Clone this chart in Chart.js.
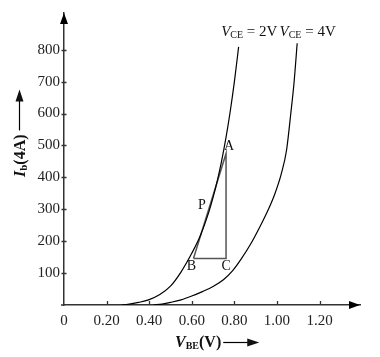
<!DOCTYPE html>
<html>
<head>
<meta charset="utf-8">
<script src="https://cdn.jsdelivr.net/npm/chart.js@4/dist/chart.umd.min.js"></script>
<style>
html,body{margin:0;padding:0;background:#fff;}
#wrap{width:380px;height:357px;position:relative;}
</style>
</head>
<body>
<div id="wrap"><canvas id="c" width="380" height="357"></canvas></div>
<script>
// ---- data ----
const vbe2 = [0.27, 0.30, 0.35, 0.40, 0.45, 0.50, 0.55, 0.60, 0.64, 0.68, 0.70, 0.72, 0.74, 0.76, 0.78, 0.80, 0.82];
const ib2  = [0,    2,    8,    17,   33,   59,   104,  162,  217,  291,  337,  390,  451,  522,  604,  699,  809];
const vbe4 = [0.42, 0.46, 0.50, 0.55, 0.60, 0.65, 0.70, 0.75, 0.79, 0.83, 0.88, 0.92, 0.96, 0.99, 1.02, 1.045, 1.065, 1.08, 1.095];
const ib4  = [0,    3,    8,    16,   28,   42,   58,   80,   106,  142,  195,  245,  300,  348,  410,  485,   600,   695,  820];
const triVbe = [0.608, 0.761, 0.761, 0.608];   // B, C, A, B
const triIb  = [146,   146,   475,   146];
const pointP = [0.648, 312];
const xTicks = [0, 0.20, 0.40, 0.60, 0.80, 1.00, 1.20];
const yTicks = [100, 200, 300, 400, 500, 600, 700, 800];
const curveNames = ['2V', '4V'];

const SERIF = '"Liberation Serif", "DejaVu Serif", serif';
const zip = (xs, ys) => xs.map((x, i) => ({x, y: ys[i]}));

function drawRich(ctx, segs, x, y) {
  let cx = x;
  for (const s of segs) {
    ctx.font = s.font;
    ctx.fillText(s.text, cx, y + (s.dy || 0));
    cx += ctx.measureText(s.text).width + (s.gap || 0);
  }
  return cx;
}

const decor = {
  id: 'decor',
  afterDraw(chart) {
    const ctx = chart.ctx, xs = chart.scales.x, ys = chart.scales.y;
    const ca = chart.chartArea;
    const x0 = xs.getPixelForValue(0), y0 = ys.getPixelForValue(0);
    ctx.save();
    ctx.fillStyle = '#111';
    ctx.strokeStyle = '#333';
    ctx.lineWidth = 1.3;
    // tick marks
    ctx.beginPath();
    xTicks.forEach(v => { if (v === 0) return; const p = Math.round(xs.getPixelForValue(v)) + 0.5; ctx.moveTo(p, y0); ctx.lineTo(p, y0 - 4); });
    yTicks.forEach(v => { const p = Math.round(ys.getPixelForValue(v)) + 0.5; ctx.moveTo(x0 - 2.5, p); ctx.lineTo(x0 + 2.5, p); });
    ctx.moveTo(x0 - 3, y0); ctx.lineTo(x0, y0);
    ctx.stroke();
    // arrowheads
    ctx.fillStyle = '#000';
    ctx.beginPath();
    ctx.moveTo(ca.right, y0); ctx.lineTo(ca.right - 11, y0 - 4); ctx.lineTo(ca.right - 11, y0 + 4); ctx.closePath();
    ctx.fill();
    ctx.beginPath();
    ctx.moveTo(x0, ca.top); ctx.lineTo(x0 - 4, ca.top + 11); ctx.lineTo(x0 + 4, ca.top + 11); ctx.closePath();
    ctx.fill();

    // point labels
    ctx.fillStyle = '#111';
    ctx.font = '14px ' + SERIF;
    ctx.textAlign = 'center';
    ctx.textBaseline = 'middle';
    const px = v => xs.getPixelForValue(v), py = v => ys.getPixelForValue(v);
    ctx.fillText('A', px(triVbe[2]) + 3, py(triIb[2]) - 7);
    ctx.fillText('B', px(triVbe[0]) - 2, py(triIb[0]) + 8);
    ctx.fillText('C', px(triVbe[1]), py(triIb[1]) + 8);
    ctx.fillText('P', px(pointP[0]), py(pointP[1]));

    // curve labels
    ctx.textAlign = 'left';
    ctx.textBaseline = 'alphabetic';
    const lblY = py(842);
    [[0.738, curveNames[0]], [1.012, curveNames[1]]].forEach(([xv, nm]) => {
      drawRich(ctx, [
        {text: 'V', font: 'italic 15px ' + SERIF},
        {text: 'CE', font: '10px ' + SERIF, dy: 2},
        {text: ' = ' + nm, font: '15px ' + SERIF}
      ], px(xv), lblY);
    });

    // x axis title
    let ex = drawRich(ctx, [
      {text: 'V', font: 'bold italic 16px ' + SERIF},
      {text: 'BE', font: 'bold 10px ' + SERIF, dy: 2},
      {text: '(V)', font: 'bold 16px ' + SERIF}
    ], 175, 347);
    ctx.strokeStyle = '#000'; ctx.lineWidth = 1.2;
    ctx.beginPath(); ctx.moveTo(ex + 2, 342.5); ctx.lineTo(ex + 27, 342.5); ctx.stroke();
    ctx.beginPath(); ctx.moveTo(ex + 38, 342.5); ctx.lineTo(ex + 26, 338.5); ctx.lineTo(ex + 26, 346.5); ctx.closePath(); ctx.fill();

    // y axis title (rotated)
    ctx.save();
    ctx.translate(25, 177);
    ctx.rotate(-Math.PI / 2);
    ex = drawRich(ctx, [
      {text: 'I', font: 'bold italic 16px ' + SERIF},
      {text: 'b', font: 'bold 11px ' + SERIF, dy: 2},
      {text: '(4A)', font: 'bold 16px ' + SERIF}
    ], 0, 0);
    ctx.beginPath(); ctx.moveTo(ex + 4, -5.5); ctx.lineTo(ex + 34, -5.5); ctx.stroke();
    ctx.beginPath(); ctx.moveTo(ex + 45, -5.5); ctx.lineTo(ex + 33, -9.5); ctx.lineTo(ex + 33, -1.5); ctx.closePath(); ctx.fill();
    ctx.restore();

    ctx.restore();
  }
};

const lineDs = (data, color, width, mode) => ({
  data, showLine: true, borderColor: color, borderWidth: width, pointRadius: 0,
  fill: false, tension: mode ? 0.4 : 0, cubicInterpolationMode: mode || 'default'
});

new Chart(document.getElementById('c'), {
  type: 'scatter',
  data: {
    datasets: [
      lineDs(zip(vbe2, ib2), '#000', 1.2, 'monotone'),
      lineDs(zip(vbe4, ib4), '#000', 1.2, 'monotone'),
      lineDs(zip(triVbe, triIb), '#555', 1.5, null)
    ]
  },
  options: {
    responsive: false,
    animation: false,
    events: [],
    layout: {padding: {top: 3, right: 20, left: 0, bottom: 0}},
    plugins: {legend: {display: false}, tooltip: {enabled: false}, title: {display: false}},
    scales: {
      x: {
        type: 'linear', min: 0, max: 1.39,
        grid: {display: false, drawTicks: false},
        border: {display: true, color: '#333', width: 1.5},
        afterFit: s => { s.height = 52; },
        afterBuildTicks: s => { s.ticks = xTicks.map(v => ({value: v})); },
        ticks: {
          autoSkip: false, maxRotation: 0, padding: 7, color: '#222',
          font: {family: SERIF, size: 15},
          callback: v => v === 0 ? '0' : Number(v).toFixed(2)
        }
      },
      y: {
        type: 'linear', min: 0, max: 915,
        grid: {display: false, drawTicks: false},
        border: {display: true, color: '#333', width: 1.5},
        afterFit: s => { s.width = 64; },
        afterBuildTicks: s => { s.ticks = yTicks.map(v => ({value: v})); },
        ticks: {
          autoSkip: false, padding: 4, color: '#222',
          font: {family: SERIF, size: 15},
          callback: v => String(v)
        }
      }
    }
  },
  plugins: [decor]
});
</script>
</body>
</html>
